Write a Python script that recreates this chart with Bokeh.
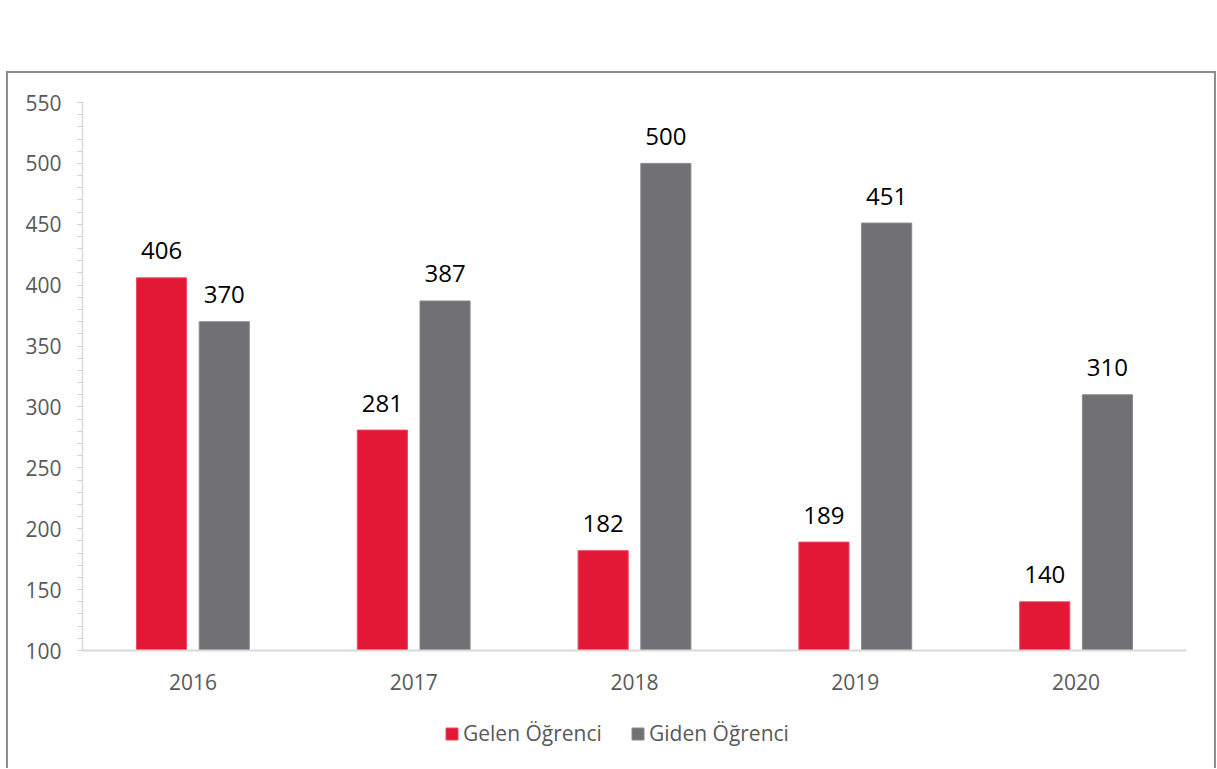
from bokeh.plotting import figure
from bokeh.models import (FactorRange, Range1d, FixedTicker, Legend, LegendItem,
                          ColumnDataSource, Span)
from bokeh.transform import dodge
from bokeh.core.properties import value
from bokeh.embed import file_html
from bokeh.resources import INLINE

years = ["2016", "2017", "2018", "2019", "2020"]
gelen = [406, 281, 182, 189, 140]
giden = [370, 387, 500, 451, 310]
series_names = ["Gelen Öğrenci", "Giden Öğrenci"]
y_ticks = [100, 150, 200, 250, 300, 350, 400, 450, 500, 550]
y_minor = list(range(100, 551, 10))
Y_MIN, Y_MAX = 100, 550

RED = "#E31837"
GRAY = "#717074"
FONT = "Open Sans"
LINE = "#8c8c8c"

W, H = 1216, 768
TOP, BOTTOM, LEFT, RIGHT = 102, 18, 82, 30
AXIS_PX = 548  # pixel height of the 100..550 span
frame_h = H - TOP - BOTTOM
y_start = Y_MAX - frame_h * (Y_MAX - Y_MIN) / AXIS_PX

src = ColumnDataSource(dict(
    year=years, gelen=gelen, giden=giden,
    gelen_t=[str(v) for v in gelen], giden_t=[str(v) for v in giden],
))

p = figure(width=W, height=H, output_backend="svg", toolbar_location=None,
           x_range=FactorRange(factors=years, range_padding=0),
           y_range=Range1d(y_start, Y_MAX),
           min_border_top=TOP, min_border_left=LEFT, min_border_right=RIGHT,
           min_border_bottom=BOTTOM)
p.outline_line_color = None
p.grid.grid_line_color = None
p.background_fill_color = None
p.border_fill_color = None
g = f"linear-gradient({LINE},{LINE})"
p.styles = {
    "background": (f"{g} 6px 71px / 2px 720px no-repeat, "
                   f"{g} 6px 71px / 1210px 2px no-repeat, "
                   f"{g} 1214px 71px / 2px 720px no-repeat, white"),
}

off = 0.142
w = 0.227
r1 = p.vbar(x=dodge("year", -off, range=p.x_range), top="gelen", bottom=Y_MIN, width=w,
            source=src, fill_color=RED, line_color="#ea4a62", line_width=1)
r2 = p.vbar(x=dodge("year", off, range=p.x_range), top="giden", bottom=Y_MIN, width=w,
            source=src, fill_color=GRAY, line_color="#8a898c", line_width=1)

p.text(x=dodge("year", -off, range=p.x_range), y="gelen", text="gelen_t", source=src,
       text_align="center", text_baseline="middle", y_offset=-27,
       text_font=value(FONT), text_font_size="24px", text_color="black")
p.text(x=dodge("year", off, range=p.x_range), y="giden", text="giden_t", source=src,
       text_align="center", text_baseline="middle", y_offset=-27,
       text_font=value(FONT), text_font_size="24px", text_color="black")

# category axis: line + labels
p.add_layout(Span(location=Y_MIN, dimension="width", line_color="#d9d9d9", line_width=2))
p.text(x="year", y=Y_MIN, text="year", source=src, text_align="center",
       text_baseline="middle", y_offset=31, text_font=value(FONT),
       text_font_size="21px", text_color="#595959")
p.xaxis.visible = False

# value axis
ya = p.yaxis[0]
ya.bounds = (Y_MIN, Y_MAX)
ya.ticker = FixedTicker(ticks=y_ticks, minor_ticks=y_minor)
ya.axis_line_color = "#d9d9d9"
ya.axis_line_width = 1.5
ya.major_tick_line_color = "#d0d0d0"
ya.minor_tick_line_color = "#d0d0d0"
ya.major_tick_in = 0
ya.major_tick_out = 5
ya.minor_tick_in = 0
ya.minor_tick_out = 5
ya.major_label_text_font = FONT
ya.major_label_text_font_size = "21px"
ya.major_label_text_color = "#595959"
ya.major_label_standoff = 16

legend = Legend(items=[LegendItem(label=series_names[0], renderers=[r1]),
                       LegendItem(label=series_names[1], renderers=[r2])],
                orientation="horizontal", location=(362, 3))
legend.label_text_font = FONT
legend.label_text_font_size = "21px"
legend.label_text_color = "#595959"
legend.glyph_width = 15
legend.glyph_height = 15
legend.label_standoff = 4
legend.label_width = 150
legend.spacing = 17
legend.padding = 0
legend.margin = 0
legend.border_line_color = None
legend.background_fill_alpha = 0
p.add_layout(legend, "center")

open("out.html", "w").write(file_html(p, INLINE))
